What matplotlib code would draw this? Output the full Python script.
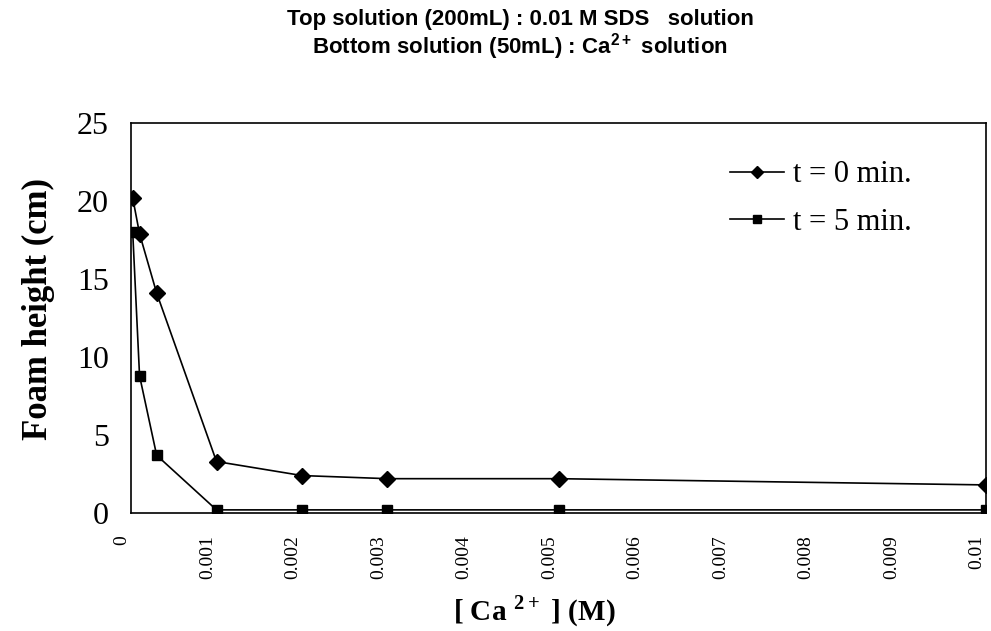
import matplotlib
matplotlib.use("Agg")
import matplotlib.pyplot as plt
from matplotlib.transforms import ScaledTranslation

plt.rcParams["mathtext.fontset"] = "custom"
plt.rcParams["mathtext.bf"] = "Liberation Serif:bold"
plt.rcParams["mathtext.sf"] = "Liberation Sans:bold"
plt.rcParams["mathtext.rm"] = "Liberation Serif:bold"

conc = [0.00002, 0.0001, 0.0003, 0.001, 0.002, 0.003, 0.005, 0.01]
foam_t0 = [20.2, 17.9, 14.1, 3.3, 2.4, 2.2, 2.2, 1.8]
foam_t5 = [18.0, 8.8, 3.7, 0.2, 0.2, 0.2, 0.2, 0.2]
xticks = [0, 0.001, 0.002, 0.003, 0.004, 0.005, 0.006, 0.007, 0.008, 0.009, 0.01]
xticklabels = ["0", "0.001", "0.002", "0.003", "0.004", "0.005", "0.006", "0.007", "0.008", "0.009", "0.01"]
yticks = [0, 5, 10, 15, 20, 25]

serif = "Liberation Serif"
fig = plt.figure(figsize=(9.91, 6.31), dpi=100)
ax = fig.add_axes([131/991, 1 - 513/631, (986 - 131)/991, (513 - 123)/631])

ax.plot(conc, foam_t0, color="black", lw=1.2, marker="D", markersize=8,
        markerfacecolor="black", markeredgecolor="black", label="t = 0 min.")
ax.plot(conc, foam_t5, color="black", lw=1.2, marker="s", markersize=7.5,
        markerfacecolor="black", markeredgecolor="black", label="t = 5 min.")

ax.set_xlim(0, 0.01)
ax.set_ylim(0, 25)
ax.set_xticks(xticks)
ax.set_xticklabels(xticklabels, rotation=90, fontfamily=serif, fontsize=14)
ax.set_yticks(yticks)
ax.set_yticklabels([str(v) for v in yticks], fontfamily=serif, fontsize=23)
ax.tick_params(axis="x", length=0, pad=16)
ax.tick_params(axis="y", length=0, pad=16)
shift = ScaledTranslation(-9/100, 0, fig.dpi_scale_trans)
for lab in ax.get_xticklabels():
    lab.set_transform(lab.get_transform() + shift)
for s in ax.spines.values():
    s.set_linewidth(1.2)

fig.text(38/991, 1 - 309/631, "Foam height (cm)", rotation=90, ha="center", va="center",
         fontfamily=serif, fontsize=25, fontweight="bold")
fig.text(534/991, 1 - 611/631, r"[ Ca $^{\mathbf{2+}}$ ] (M)", ha="center", va="center",
         fontfamily=serif, fontsize=21, fontweight="bold")

leg = ax.legend(loc="upper right", frameon=False, prop={"family": serif, "size": 22},
                handlelength=1.75, labelspacing=0.6, bbox_to_anchor=(0.945, 0.975),
                handletextpad=0.3, markerscale=0.75)

fig.text(0.525, 1 - 20/631, "Top solution (200mL) : 0.01 M SDS   solution", ha="center", va="center",
         fontfamily="Liberation Sans", fontweight="bold", fontsize=16)
fig.text(0.525, 1 - 47/631, r"Bottom solution (50mL) : Ca$^{\mathsf{2+}}$ solution", ha="center", va="center",
         fontfamily="Liberation Sans", fontweight="bold", fontsize=16)

fig.savefig("out.png", dpi=100)
